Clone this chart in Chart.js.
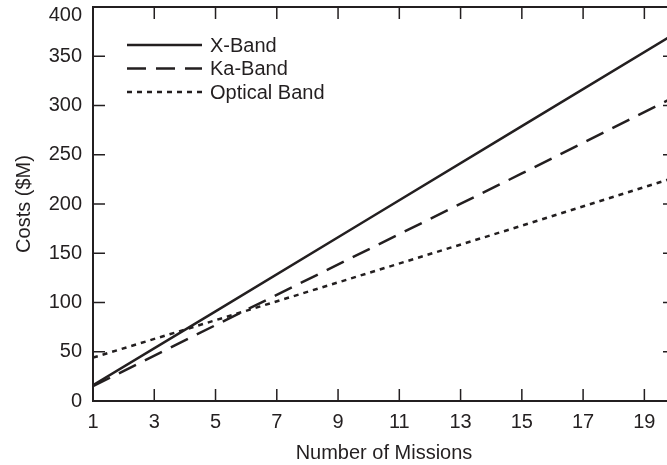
<!DOCTYPE html>
<html>
<head>
<meta charset="utf-8">
<script src="https://cdn.jsdelivr.net/npm/chart.js@4.4.1/dist/chart.umd.min.js"></script>
<style>
    html, body { margin: 0; padding: 0; background: #fff; overflow: hidden; }
    #wrap { width: 667px; height: 465px; overflow: hidden; }
</style>
</head>
<body>
<div id="wrap"><canvas id="costChart" width="676" height="465"></canvas></div>
<script>
// values
const missions = [1, 5, 10, 15, 20];
const xBand = [16, 91, 185, 279, 373];
const kaBand = [15, 77, 154, 231, 309];
const opticalBand = [44, 82, 130, 178, 227];
const seriesNames = ['X-Band', 'Ka-Band', 'Optical Band'];
const xTicks = [1, 3, 5, 7, 9, 11, 13, 15, 17, 19];
const yTicks = [0, 50, 100, 150, 200, 250, 300, 350, 400];

const ink = '#231f20';
const font = "'Liberation Sans', Arial, Helvetica, sans-serif";

function toPoints(values) {
    return missions.map(function(m, i) { return { x: m, y: values[i] }; });
}

// box round the plot with inward ticks on all four sides
const frame = {
    id: 'frame',
    afterDatasetsDraw: function(chart) {
        const ctx = chart.ctx;
        const a = chart.chartArea;
        const xs = chart.scales.x;
        const ys = chart.scales.y;
        const len = 12;
        ctx.save();
        ctx.strokeStyle = ink;
        ctx.lineWidth = 2;
        ctx.setLineDash([]);
        ctx.strokeRect(a.left, a.top, a.right - a.left, a.bottom - a.top);
        ctx.lineWidth = 1.5;
        ctx.beginPath();
        xTicks.forEach(function(v) {
            const px = xs.getPixelForValue(v);
            if (px <= a.left + 1 || px >= a.right - 1) return;
            ctx.moveTo(px, a.bottom); ctx.lineTo(px, a.bottom - len);
            ctx.moveTo(px, a.top); ctx.lineTo(px, a.top + len);
        });
        yTicks.forEach(function(v) {
            const py = ys.getPixelForValue(v);
            if (py <= a.top + 1 || py >= a.bottom - 1) return;
            ctx.moveTo(a.left, py); ctx.lineTo(a.left + len, py);
            ctx.moveTo(a.right, py); ctx.lineTo(a.right - len, py);
        });
        ctx.stroke();

        // top tick label is nudged down so it stays inside the picture
        const topVal = yTicks[yTicks.length - 1];
        ctx.font = '20px ' + font;
        ctx.fillStyle = ink;
        ctx.textAlign = 'right';
        ctx.textBaseline = 'middle';
        ctx.fillText(String(topVal), a.left - 11, ys.getPixelForValue(topVal) + 8);
        ctx.restore();
    }
};

// legend inside the plot, top left, with long line samples
const insideLegend = {
    id: 'insideLegend',
    afterDatasetsDraw: function(chart) {
        const ctx = chart.ctx;
        const a = chart.chartArea;
        const x0 = a.left + 34;
        const lineLen = 75;
        let y = a.top + 38;
        ctx.save();
        ctx.font = '20px ' + font;
        ctx.textBaseline = 'middle';
        ctx.textAlign = 'left';
        chart.data.datasets.forEach(function(ds) {
            ctx.strokeStyle = ds.borderColor;
            ctx.lineWidth = ds.borderWidth;
            ctx.setLineDash(ds.borderDash || []);
            ctx.beginPath();
            ctx.moveTo(x0, y);
            ctx.lineTo(x0 + lineLen, y);
            ctx.stroke();
            ctx.fillStyle = ink;
            ctx.fillText(ds.label, x0 + lineLen + 8, y + 1);
            y += 23.5;
        });
        ctx.restore();
    }
};

const ctx = document.getElementById('costChart').getContext('2d');
const costChart = new Chart(ctx, {
    type: 'line',
    data: {
        datasets: [
            { label: seriesNames[0], data: toPoints(xBand), borderColor: ink, borderWidth: 2.5, borderDash: [] },
            { label: seriesNames[1], data: toPoints(kaBand), borderColor: ink, borderWidth: 2.5, borderDash: [19, 10] },
            { label: seriesNames[2], data: toPoints(opticalBand), borderColor: ink, borderWidth: 2.5, borderDash: [5, 5] }
        ]
    },
    options: {
        responsive: false,
        animation: false,
        events: [],
        elements: {
            point: { radius: 0 },
            line: { tension: 0, fill: false }
        },
        layout: {
            autoPadding: false,
            padding: { left: 0, right: 1, top: 7, bottom: 0 }
        },
        plugins: {
            legend: { display: false },
            tooltip: { enabled: false }
        },
        scales: {
            x: {
                type: 'linear',
                min: 1,
                max: 20,
                grid: { display: false, drawTicks: false },
                border: { display: false },
                afterBuildTicks: function(scale) {
                    scale.ticks = xTicks.map(function(v) { return { value: v }; });
                },
                afterFit: function(scale) {
                    scale.height = 64;
                    scale.paddingLeft = 0;
                    scale.paddingRight = 0;
                },
                ticks: {
                    color: ink,
                    padding: 9,
                    maxRotation: 0,
                    autoSkip: false,
                    font: { family: font, size: 20 }
                },
                title: {
                    display: true,
                    text: 'Number of Missions',
                    color: ink,
                    padding: { top: 0, bottom: 0 },
                    font: { family: font, size: 20 }
                }
            },
            y: {
                min: 0,
                max: 400,
                grid: { display: false, drawTicks: false },
                border: { display: false },
                afterBuildTicks: function(scale) {
                    scale.ticks = yTicks.map(function(v) { return { value: v }; });
                },
                afterFit: function(scale) {
                    scale.width = 93;
                    scale.paddingTop = 0;
                    scale.paddingBottom = 0;
                },
                ticks: {
                    color: ink,
                    padding: 11,
                    font: { family: font, size: 20 },
                    callback: function(value) {
                        return value === yTicks[yTicks.length - 1] ? '' : value;
                    }
                },
                title: {
                    display: true,
                    text: 'Costs ($M)',
                    color: ink,
                    padding: { top: 12, bottom: 0 },
                    font: { family: font, size: 20 }
                }
            }
        }
    },
    plugins: [frame, insideLegend]
});
</script>
</body>
</html>
